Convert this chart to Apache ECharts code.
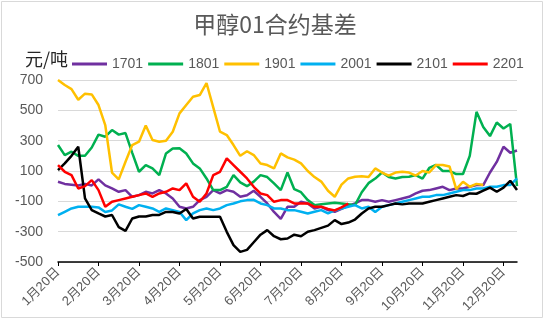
<!DOCTYPE html>
<html><head><meta charset="utf-8">
<script src="https://cdn.jsdelivr.net/npm/echarts@6/dist/echarts.min.js"></script>
<style>html,body{margin:0;padding:0;background:#fff}#c{width:550px;height:321px}</style>
</head><body><div id="c"></div>
<script>
var categories = ['1月20日','1月25日','1月30日','2月5日','2月10日','2月15日',
'2月20日','2月25日','2月28日','3月5日','3月10日','3月15日',
'3月20日','3月25日','3月30日','4月5日','4月10日','4月15日',
'4月20日','4月25日','4月30日','5月5日','5月10日','5月15日',
'5月20日','5月25日','5月30日','6月5日','6月10日','6月15日',
'6月20日','6月25日','6月30日','7月5日','7月10日','7月15日',
'7月20日','7月25日','7月30日','8月5日','8月10日','8月15日',
'8月20日','8月25日','8月30日','9月5日','9月10日','9月15日',
'9月20日','9月25日','9月30日','10月5日','10月10日','10月15日',
'10月20日','10月25日','10月30日','11月5日','11月10日','11月15日',
'11月20日','11月25日','11月30日','12月5日','12月10日','12月15日',
'12月20日','12月25日','12月31日'];
var seriesNames = ['1701','1801','1901','2001','2101','2201'];
var s1701 = [29,15,10,5,15,5,45,5,-15,-37,
-26,-70,-59,-37,-48,-26,-48,-81,-136,-147,
-136,-92,-70,-26,-48,-26,-37,-70,-60,-30,
-70,-114,-170,-215,-136,-136,-103,-114,-147,-136,
-158,-169,-150,-130,-114,-92,-92,-103,-92,-103,
-92,-81,-70,-48,-30,-26,-15,-4,-26,-15,
-15,-4,7,7,90,160,260,220,235];
var s1801 = [271,205,227,200,200,255,340,326,370,340,
350,220,95,139,117,73,216,249,250,215,
150,117,51,-26,-26,-4,73,25,0,30,
73,60,18,-26,90,-20,-40,-92,-125,-120,
-115,-110,-115,-120,-125,-40,20,50,90,60,
51,60,62,73,50,120,140,100,100,80,
80,200,490,390,330,420,380,410,0];
var s1901 = [700,667,640,570,610,605,535,403,90,45,
161,271,293,400,304,293,300,359,480,535,
590,601,680,520,359,337,271,200,230,205,
150,139,117,216,190,175,150,100,60,30,
-30,-70,10,51,62,65,60,117,90,70,
90,95,90,70,100,90,139,140,130,-20,
29,-4,15,7,null,null,null,null,null];
var s2001 = [-191,-169,-147,-136,-136,-136,-140,-170,-160,-120,
-136,-150,-125,-136,-147,-169,-147,-158,-170,-224,
-180,-158,-147,-158,-147,-125,-114,-100,-92,-90,
-114,-125,-147,-147,-158,-158,-169,-180,-169,-158,
-180,-160,-147,-136,-125,-147,-136,-170,-136,-125,
-114,-103,-92,-81,-70,-70,-59,-59,-48,-37,
-26,-26,-15,-15,-4,-4,7,7,51];
var s2101 = [106,150,200,260,-80,-158,-180,-200,-190,-270,
-295,-213,-200,-200,-190,-190,-170,-170,-180,-150,
-213,-202,-202,-202,-202,-301,-389,-433,-420,-370,
-320,-290,-330,-350,-345,-320,-330,-300,-290,-275,
-260,-224,-250,-240,-220,-180,-147,-136,-136,-125,
-114,-120,-114,-114,-114,-103,-92,-81,-70,-59,
-65,-48,-50,-30,-10,-37,-10,35,-26];
var s2201 = [139,95,73,-15,0,40,-26,-136,-103,-92,
-81,-70,-59,-48,-70,-48,-37,-15,-26,18,
-70,-103,-48,73,95,183,139,95,51,-4,
-48,-59,-103,-92,-92,-114,-114,-114,-136,-136,
-150,-160,-140,-114,null,null,null,null,null,
null,null,null,null,null,null,null,null,null,null,
null,null,null,null,null,null,null,null,null];
var colors = ['#7030A0','#00B050','#FFC000','#00B0F0','#000000','#FF0000'];
var allData = [s1701,s1801,s1901,s2001,s2101,s2201];

var chart = echarts.init(document.getElementById('c'));
var font = "'Liberation Sans','Noto Sans CJK SC',sans-serif";
var series = seriesNames.map(function(n,k){
  return {name:n,type:'line',data:allData[k],showSymbol:false,symbol:'none',
    lineStyle:{width:2.5,color:colors[k]},itemStyle:{color:colors[k]},
    xAxisIndex:0,yAxisIndex:0,connectNulls:false,animation:false};
});
chart.setOption({
  animation:false,
  textStyle:{fontFamily:font},
  title:{text:'甲醇01合约基差',left:'center',top:8,
    textStyle:{fontSize:23,color:'#595959',fontWeight:'normal',fontFamily:"'Noto Sans CJK SC',sans-serif"}},
  legend:{data:seriesNames,left:67,top:52,icon:'rect',itemWidth:35,itemHeight:3,itemGap:5,
    textStyle:{fontSize:14,color:'#595959'}},
  grid:{left:58,right:33,top:80,bottom:59,containLabel:false},
  xAxis:[{type:'category',data:categories,boundaryGap:false,
    axisLine:{show:false},axisTick:{show:false},splitLine:{show:false},
    axisLabel:{interval:5,rotate:45,fontSize:13,color:'#595959',margin:8}},
   {type:'category',data:categories,boundaryGap:false,position:'bottom',
    axisLine:{show:true,onZero:true,lineStyle:{color:'#000',width:1.5}},
    axisTick:{show:true,interval:5,length:4,lineStyle:{color:'#000'}},
    axisLabel:{show:false},splitLine:{show:false}}],
  yAxis:{type:'value',min:-500,max:700,interval:200,
    axisLine:{show:false},axisTick:{show:false},
    splitLine:{lineStyle:{color:'#d9d9d9',width:1}},
    axisLabel:{fontSize:14,color:'#595959',margin:15}},
  graphic:[
    {type:'rect',shape:{x:1.5,y:1.5,width:541,height:316},style:{fill:'none',stroke:'#d9d9d9',lineWidth:1},silent:true},
    {type:'text',left:25,top:50,style:{text:'元/吨',fontSize:18,fill:'#262626',fontFamily:"'Noto Sans CJK SC',sans-serif"}}
  ],
  series:series
});
</script></body></html>
